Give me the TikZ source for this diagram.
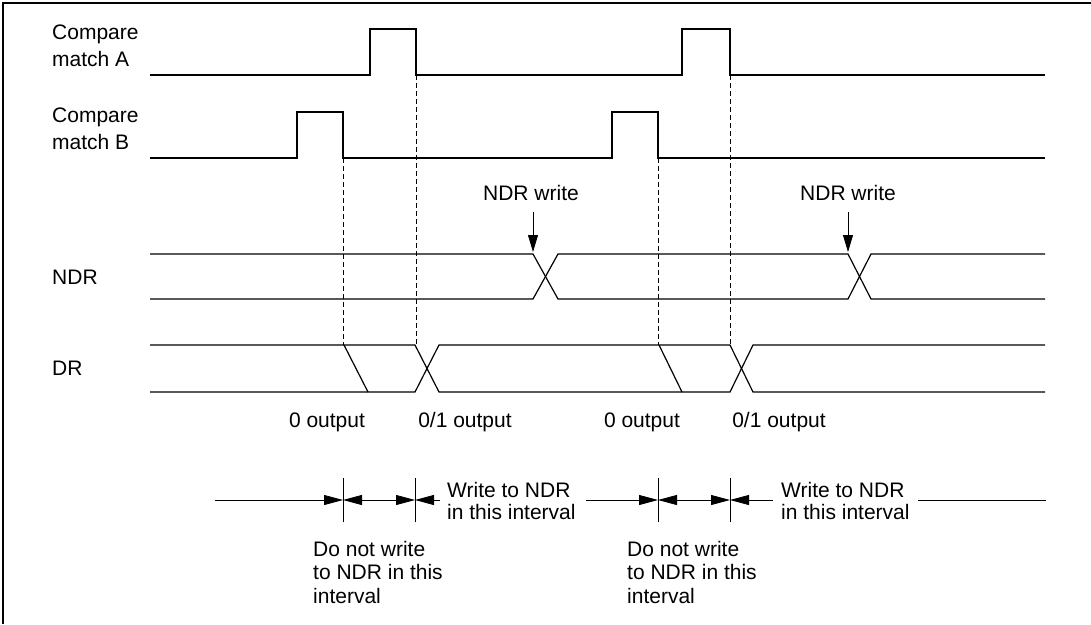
\documentclass[tikz,border=0pt]{standalone}
\usepackage{fontspec}
\setmainfont{Liberation Sans}
\usetikzlibrary{arrows.meta}
\begin{document}
\begin{tikzpicture}[x=1pt,y=-1pt,
  sig/.style={line width=1.2pt, line join=miter},
  guide/.style={line width=0.7pt, dash pattern=on 5pt off 3pt},
  thin/.style={line width=0.8pt},
  frameline/.style={line width=1.4pt},
  lbl/.style={font=\fontsize{21}{27}\selectfont, align=left, inner sep=0pt},
  note/.style={font=\fontsize{21}{23.5}\selectfont, align=left, inner sep=0pt},
  wnote/.style={font=\fontsize{21}{22}\selectfont, align=left, inner sep=0pt},
  ctext/.style={font=\fontsize{21}{25}\selectfont, inner sep=0pt},
  dimtip/.style={-{Triangle[length=19pt,width=10pt]}},
  dimboth/.style={{Triangle[length=19pt,width=10pt]}-{Triangle[length=19pt,width=10pt]}},
  wrtip/.style={-{Triangle[length=17pt,width=10pt]}},
]
\useasboundingbox (0,0) rectangle (1091,624);
\fill[white] (0,0) rectangle (1091,624);
% frame
\draw[frameline] (3,624) -- (3,3) -- (1091,3);

% labels (base anchor = baseline of last line)
\node[lbl, anchor=base west] (lA) at (52,66) {Compare\\match A};
\node[lbl, anchor=base west] (lB) at (52,149) {Compare\\match B};
\node[lbl, anchor=base west] (lNDR) at (52,284.5) {NDR};
\node[lbl, anchor=base west] (lDR) at (52,375.5) {DR};

% Compare match A
\draw[sig] (150,75) -- (370,75) -- (370,29) -- (416,29) -- (416,75) -- (682,75)
  -- (682,29) -- (730,29) -- (730,75) -- (1045,75);
% Compare match B
\draw[sig] (150,158) -- (297,158) -- (297,112) -- (343,112) -- (343,158) -- (612,158)
  -- (612,112) -- (658,112) -- (658,158) -- (1045,158);

% NDR bus
\draw[sig] (150,254) -- (533,254) -- (558,299) -- (848,299) -- (871,254) -- (1045,254);
\draw[sig] (150,299) -- (533,299) -- (558,254) -- (848,254) -- (871,299) -- (1045,299);

% DR bus
\draw[sig] (150,345) -- (415,345) -- (439,392) -- (730,392) -- (753,345) -- (1045,345);
\draw[sig] (150,392) -- (415,392) -- (439,345) -- (730,345) -- (753,392) -- (1045,392);
\draw[sig] (344,345) -- (368,392);
\draw[sig] (659,345) -- (682,392);

% dashed guides
\coordinate (gB1) at (343,158);
\coordinate (gA1) at (416,75);
\coordinate (gB2) at (658,158);
\coordinate (gA2) at (730,75);
\coordinate (dB1) at (343,345);
\coordinate (dA1) at (416,345);
\coordinate (dB2) at (658,345);
\coordinate (dA2) at (730,345);
\draw[guide] (gB1) -- (dB1);
\draw[guide] (gA1) -- (dA1);
\draw[guide] (gB2) -- (dB2);
\draw[guide] (gA2) -- (dA2);

% NDR write arrows
\node[ctext, anchor=base] (w1) at (531,200) {NDR write};
\node[ctext, anchor=base] (w2) at (848,200) {NDR write};
\coordinate (w1s) at (533,212);
\coordinate (w1e) at (533,252);
\coordinate (w2s) at (848,212);
\coordinate (w2e) at (848,252);
\draw[thin, wrtip] (w1s) -- (w1e);
\draw[thin, wrtip] (w2s) -- (w2e);

% output labels
\node[ctext, anchor=base] (o1) at (327,427) {0 output};
\node[ctext, anchor=base] (o2) at (465,427) {0/1 output};
\node[ctext, anchor=base] (o3) at (642,427) {0 output};
\node[ctext, anchor=base] (o4) at (779,427) {0/1 output};

% bottom interval markers
\coordinate (s1) at (215,500);
\coordinate (t1) at (343,500);
\coordinate (t2) at (415,500);
\coordinate (e1) at (440,500);
\coordinate (s2) at (586,500);
\coordinate (t3) at (658,500);
\coordinate (t4) at (730,500);
\coordinate (e2) at (773,500);
\coordinate (s3) at (918,500);
\coordinate (e3) at (1046,500);
\foreach \t in {t1,t2,t3,t4}{
  \draw[thin] ([yshift=-22pt]\t) -- ([yshift=22pt]\t);
}
\draw[thin, dimtip] (s1) -- (t1);
\draw[thin, dimboth] (t1) -- (t2);
\draw[thin, dimtip] (e1) -- (t2);
\draw[thin, dimtip] (s2) -- (t3);
\draw[thin, dimboth] (t3) -- (t4);
\draw[thin, dimtip] (e2) -- (t4);
\draw[thin] (s3) -- (e3);

\node[wnote, anchor=base west] (wn1) at (447,519) {Write to NDR\\in this interval};
\node[wnote, anchor=base west] (wn2) at (781,519) {Write to NDR\\in this interval};
\node[note, anchor=base west] (dn1) at (313,603) {Do not write\\to NDR in this\\interval};
\node[note, anchor=base west] (dn2) at (627,603) {Do not write\\to NDR in this\\interval};
\end{tikzpicture}
\end{document}
